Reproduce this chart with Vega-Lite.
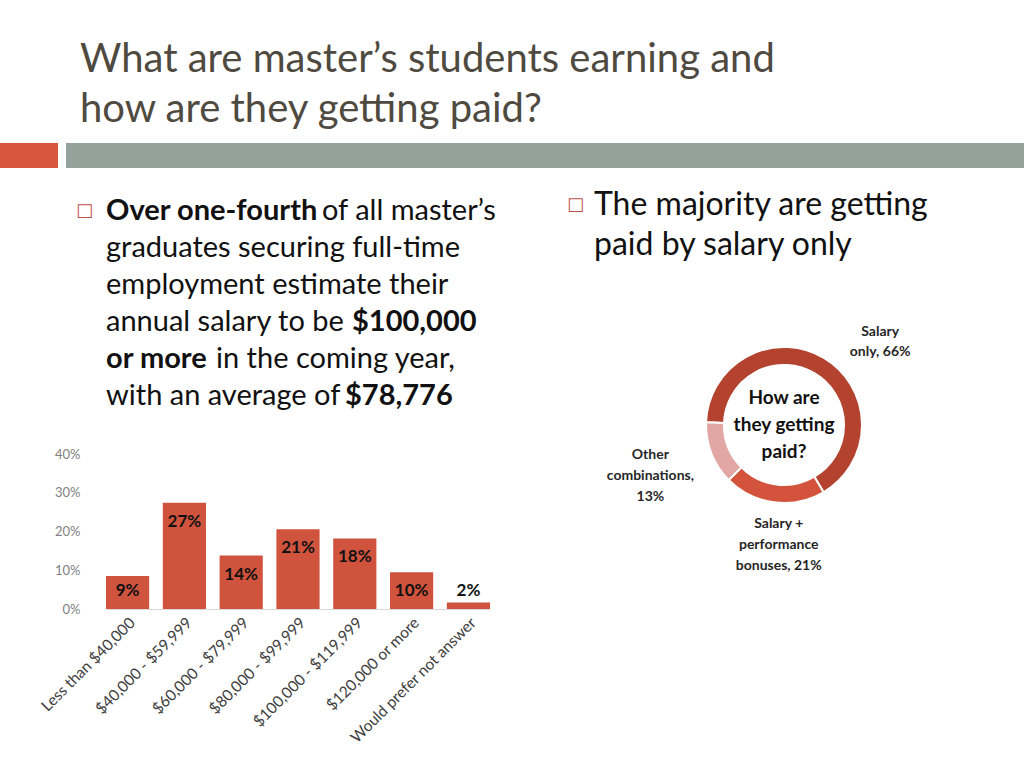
{
  "$schema": "https://vega.github.io/schema/vega-lite/v6.json",
  "background": "white",
  "padding": {"left": 0, "top": 40, "right": 0, "bottom": 0},
  "spacing": 17,
  "config": {"view": {"stroke": null}, "font": "Lato"},
  "title": {
    "text": ["What are master’s students earning and", "how are they getting paid?"],
    "anchor": "start",
    "dx": 80,
    "offset": 13,
    "font": "Lato",
    "fontSize": 40,
    "fontWeight": "normal",
    "lineHeight": 50,
    "color": "#4F4A3F"
  },
  "datasets": {
    "bars": [
      {"range": "Less than $40,000", "pct": 0.085, "label": "9%"},
      {"range": "$40,000 - $59,999", "pct": 0.274, "label": "27%"},
      {"range": "$60,000 - $79,999", "pct": 0.138, "label": "14%"},
      {"range": "$80,000 - $99,999", "pct": 0.206, "label": "21%"},
      {"range": "$100,000 - $119,999", "pct": 0.182, "label": "18%"},
      {"range": "$120,000 or more", "pct": 0.095, "label": "10%"},
      {"range": "Would prefer not answer", "pct": 0.017, "label": "2%"}
    ],
    "slices": [
      {"cat": "Salary only", "pct": 66, "ord": 1, "label": "Salary\nonly, 66%"},
      {"cat": "Salary + performance bonuses", "pct": 21, "ord": 2, "label": "Salary +\nperformance\nbonuses, 21%"},
      {"cat": "Other combinations", "pct": 13, "ord": 3, "label": "Other\ncombinations,\n13%"}
    ],
    "leftText": [
      {"line": 1, "seg": "bul", "text": "□"},
      {"line": 1, "seg": "b0", "text": "Over one-fourth"},
      {"line": 1, "seg": "n1", "text": "of all master’s"},
      {"line": 2, "seg": "n0", "text": "graduates securing full-time"},
      {"line": 3, "seg": "n0", "text": "employment estimate their"},
      {"line": 4, "seg": "n0", "text": "annual salary to be"},
      {"line": 4, "seg": "b4", "text": "$100,000"},
      {"line": 5, "seg": "b0", "text": "or more"},
      {"line": 5, "seg": "n5", "text": "in the coming year,"},
      {"line": 6, "seg": "n0", "text": "with an average of"},
      {"line": 6, "seg": "b6", "text": "$78,776"}
    ],
    "rightText": [
      {"line": 1, "seg": "bul", "text": "□"},
      {"line": 1, "seg": "n0", "text": "The majority are getting"},
      {"line": 2, "seg": "n0", "text": "paid by salary only"}
    ]
  },
  "vconcat": [
    {
      "hconcat": [
        {
          "width": 58, "height": 25,
          "view": {"fill": "#D6573D", "stroke": null},
          "data": {"values": []},
          "mark": "text",
          "encoding": {}
        },
        {
          "width": 958, "height": 25,
          "view": {"fill": "#93A29A", "stroke": null},
          "data": {"values": []},
          "mark": "text",
          "encoding": {}
        }
      ],
      "spacing": 8
    },
    {
      "hconcat": [
        {
          "width": 38, "height": 10,
          "data": {"values": []},
          "mark": "text",
          "encoding": {}
        },
        {
          "vconcat": [
            {
              "width": 460, "height": 237,
              "data": {"name": "leftText"},
              "encoding": {
                "y": {"field": "line", "type": "ordinal", "axis": null, "scale": {"type": "point", "padding": 0.703}},
                "x": {"value": 0},
                "text": {"field": "text"}
              },
              "layer": [
                {"transform": [{"filter": "datum.seg == 'bul'"}], "mark": {"type": "text", "align": "right", "baseline": "middle", "font": "DejaVu Sans", "fontSize": 18, "color": "#C0504D", "dx": -13}},
                {"transform": [{"filter": "datum.seg == 'b0'"}], "mark": {"type": "text", "align": "left", "baseline": "middle", "fontSize": 29, "fontWeight": "bold", "color": "#111111"}},
                {"transform": [{"filter": "datum.seg == 'n0'"}], "mark": {"type": "text", "align": "left", "baseline": "middle", "fontSize": 29, "color": "#111111"}},
                {"transform": [{"filter": "datum.seg == 'n1'"}], "mark": {"type": "text", "align": "left", "baseline": "middle", "fontSize": 29, "color": "#111111", "dx": 216}},
                {"transform": [{"filter": "datum.seg == 'n5'"}], "mark": {"type": "text", "align": "left", "baseline": "middle", "fontSize": 29, "color": "#111111", "dx": 110}},
                {"transform": [{"filter": "datum.seg == 'b4'"}], "mark": {"type": "text", "align": "left", "baseline": "middle", "fontSize": 29, "fontWeight": "bold", "color": "#111111", "dx": 246}},
                {"transform": [{"filter": "datum.seg == 'b6'"}], "mark": {"type": "text", "align": "left", "baseline": "middle", "fontSize": 29, "fontWeight": "bold", "color": "#111111", "dx": 239}}
              ]
            },
            {
              "width": 384, "height": 155,
              "data": {"name": "bars"},
              "transform": [{"calculate": "max(datum.pct - 0.049, 0.046)", "as": "ly"}],
              "encoding": {
                "x": {
                  "field": "range", "type": "nominal", "sort": null,
                  "scale": {"paddingInner": 0.24, "paddingOuter": 0.0},
                  "axis": {"title": null, "labelAngle": -45, "labelFontSize": 15.5, "labelColor": "#404040", "domainColor": "#D9D9D9", "ticks": false, "labelPadding": 6}
                }
              },
              "layer": [
                {
                  "mark": {"type": "bar", "color": "#D0533D"},
                  "encoding": {
                    "y": {
                      "field": "pct", "type": "quantitative",
                      "scale": {"domain": [0, 0.4]},
                      "axis": {"title": null, "format": ".0%", "values": [0, 0.1, 0.2, 0.3, 0.4], "labelOverlap": false, "grid": false, "domain": false, "ticks": false, "labelColor": "#7F7F7F", "labelFontSize": 13, "labelPadding": 26}
                    }
                  }
                },
                {
                  "mark": {"type": "text", "baseline": "middle", "fontSize": 17, "fontWeight": "bold", "color": "#111111"},
                  "encoding": {
                    "y": {
                      "field": "ly", "type": "quantitative",
                      "axis": {"title": null, "format": ".0%", "values": [0, 0.1, 0.2, 0.3, 0.4], "labelOverlap": false, "grid": false, "domain": false, "ticks": false, "labelColor": "#7F7F7F", "labelFontSize": 13, "labelPadding": 26}
                    },
                    "text": {"field": "label"}
                  }
                }
              ]
            }
          ],
          "spacing": 32,
          "bounds": "flush"
        },
        {
          "vconcat": [
            {
              "width": 400, "height": 80,
              "data": {"name": "rightText"},
              "encoding": {
                "y": {"field": "line", "type": "ordinal", "axis": null, "scale": {"type": "point", "padding": 0.5}},
                "x": {"value": 0},
                "text": {"field": "text"}
              },
              "layer": [
                {"transform": [{"filter": "datum.seg == 'bul'"}], "mark": {"type": "text", "align": "right", "baseline": "middle", "font": "DejaVu Sans", "fontSize": 18, "color": "#C0504D", "dx": -10}},
                {"transform": [{"filter": "datum.seg == 'n0'"}], "mark": {"type": "text", "align": "left", "baseline": "middle", "fontSize": 32, "color": "#111111"}}
              ]
            },
            {
              "width": 380, "height": 300,
              "data": {"name": "slices"},
              "transform": [
                {"stack": "pct", "groupby": [], "sort": [{"field": "ord"}], "as": ["t0", "t1"]},
                {"calculate": "(datum.t0 + datum.t1) / 2", "as": "tm"}
              ],
              "layer": [
                {
                  "mark": {"type": "arc", "outerRadius": 78, "innerRadius": 60, "stroke": "white", "strokeWidth": 2},
                  "encoding": {
                    "theta": {"field": "t0", "type": "quantitative", "scale": {"domain": [0, 100], "range": [4.747, 11.030]}},
                    "theta2": {"field": "t1"},
                    "color": {
                      "field": "cat", "type": "nominal", "legend": null,
                      "scale": {"domain": ["Salary only", "Salary + performance bonuses", "Other combinations"], "range": ["#B3432F", "#D4533C", "#E2A7A4"]}
                    }
                  }
                },
                {
                  "transform": [{"filter": "datum.cat == 'Salary only'"}],
                  "mark": {"type": "text", "radius": 100, "dx": 45, "dy": -7, "fontSize": 14, "fontWeight": "bold", "color": "#262626", "lineBreak": "\n", "lineHeight": 20, "baseline": "middle"},
                  "encoding": {"theta": {"field": "tm", "type": "quantitative"}, "text": {"field": "label"}}
                },
                {
                  "transform": [{"filter": "datum.cat == 'Other combinations'"}],
                  "mark": {"type": "text", "radius": 150, "dx": 6, "dy": -25, "fontSize": 14, "fontWeight": "bold", "color": "#262626", "lineBreak": "\n", "lineHeight": 21, "baseline": "middle"},
                  "encoding": {"theta": {"field": "tm", "type": "quantitative"}, "text": {"field": "label"}}
                },
                {
                  "transform": [{"filter": "datum.cat == 'Salary + performance bonuses'"}],
                  "mark": {"type": "text", "radius": 119, "dx": 10, "dy": -19, "fontSize": 14, "fontWeight": "bold", "color": "#262626", "lineBreak": "\n", "lineHeight": 21, "baseline": "middle"},
                  "encoding": {"theta": {"field": "tm", "type": "quantitative"}, "text": {"field": "label"}}
                },
                {
                  "data": {"values": [{"t": "How are\nthey getting\npaid?"}]},
                  "mark": {"type": "text", "dy": -27, "fontSize": 19, "fontWeight": "bold", "color": "#111111", "lineBreak": "\n", "lineHeight": 27, "baseline": "middle"},
                  "encoding": {"text": {"field": "t"}}
                }
              ]
            }
          ],
          "spacing": 10,
          "bounds": "flush"
        }
      ],
      "spacing": 0
    }
  ]
}
